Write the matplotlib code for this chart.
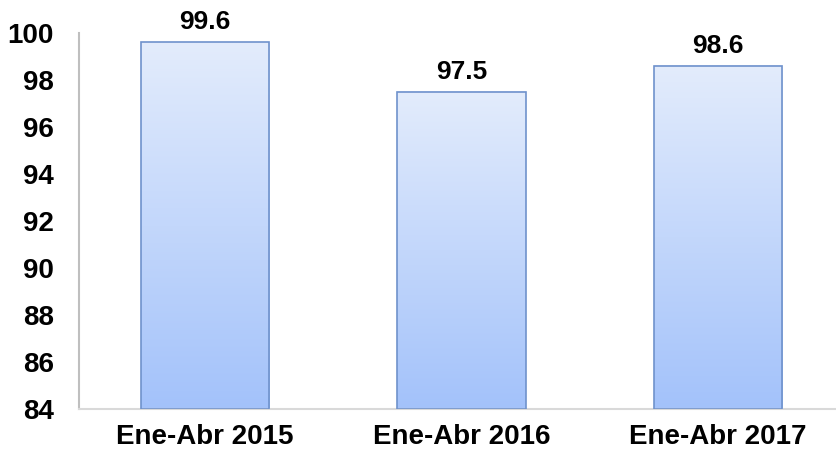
import matplotlib.pyplot as plt
import numpy as np
from matplotlib.colors import LinearSegmentedColormap

plt.rcParams['font.family'] = ['Liberation Sans', 'DejaVu Sans']

categories = ['Ene-Abr 2015', 'Ene-Abr 2016', 'Ene-Abr 2017']
values = [99.6, 97.5, 98.6]
labels = ['99.6', '97.5', '98.6']

fig = plt.figure(figsize=(8.36, 4.5), dpi=100)
ax = fig.add_axes([0.0945, 0.0911, 0.9055, 0.8356])

ymin, ymax = 84, 100
cmap = LinearSegmentedColormap.from_list('grad', ['#a3c2fa', '#e3ecfc'])
grad = np.linspace(0, 1, 256).reshape(-1, 1)

x = np.arange(len(categories))
width = 0.5
bars = ax.bar(x, [v - ymin for v in values], width, bottom=ymin,
              facecolor='none', edgecolor='#6f92cc', linewidth=1.2, zorder=3)
for b in bars:
    x0, y0 = b.get_x(), b.get_y()
    ax.imshow(grad, cmap=cmap, origin='lower', aspect='auto',
              extent=[x0, x0 + b.get_width(), y0, y0 + b.get_height()], zorder=2)

for xi, v, lab in zip(x, values, labels):
    ax.text(xi, v + 0.35, lab, ha='center', va='bottom', fontsize=19, fontweight='bold')

ax.set_xlim(-0.49, 2.46)
ax.set_ylim(ymin, ymax)
ax.set_yticks(range(84, 101, 2))
ax.set_xticks(x)
ax.set_xticklabels(categories)
ax.tick_params(axis='both', length=0, labelsize=20)
ax.tick_params(axis='y', pad=18)
ax.tick_params(axis='x', pad=11)
for t in ax.get_xticklabels() + ax.get_yticklabels():
    t.set_fontweight('bold')

for s in ['top', 'right']:
    ax.spines[s].set_visible(False)
ax.spines['left'].set_color('#bfbfbf')
ax.spines['bottom'].set_color('#d9d9d9')
ax.spines['left'].set_linewidth(1.5)
ax.spines['bottom'].set_linewidth(1.5)

fig.savefig('out.png', dpi=100)
